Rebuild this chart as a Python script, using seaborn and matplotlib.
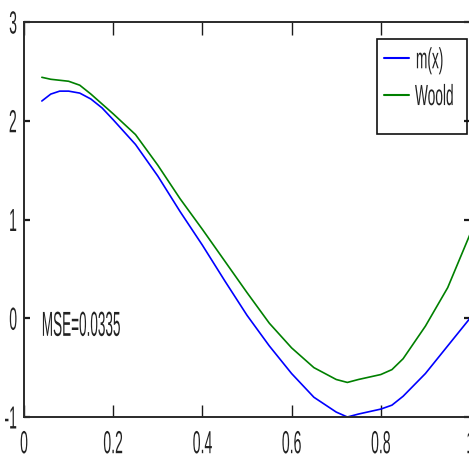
import numpy as np
import pandas as pd
import seaborn as sns
import matplotlib
matplotlib.use("Agg")
import matplotlib.pyplot as plt
from matplotlib.patheffects import AbstractPathEffect
from matplotlib.transforms import Affine2D
from matplotlib.patches import Rectangle

# Sample locations and the two curves
x_vals = [0.04, 0.06, 0.08, 0.10, 0.125, 0.15, 0.175, 0.20, 0.25, 0.30, 0.35,
          0.40, 0.45, 0.50, 0.55, 0.60, 0.65, 0.70, 0.725, 0.75, 0.80, 0.825,
          0.85, 0.90, 0.95, 1.00]
m_x = [2.20, 2.27, 2.30, 2.30, 2.28, 2.22, 2.13, 2.01, 1.76, 1.44, 1.08,
       0.74, 0.38, 0.03, -0.28, -0.56, -0.80, -0.95, -1.00, -0.97, -0.92, -0.88,
       -0.79, -0.56, -0.28, 0.00]
woold = [2.44, 2.42, 2.41, 2.40, 2.36, 2.27, 2.17, 2.07, 1.86, 1.55, 1.21,
         0.90, 0.58, 0.26, -0.05, -0.30, -0.50, -0.62, -0.65, -0.62, -0.57, -0.52,
         -0.41, -0.08, 0.31, 0.85]
series_names = ["m(x)", "Woold"]
series_colors = ["#0000ff", "#008000"]
x_ticks = [0, 0.2, 0.4, 0.6, 0.8, 1]
x_tick_labels = ["0", "0.2", "0.4", "0.6", "0.8", "1"]
y_ticks = [-1, 0, 1, 2, 3]
y_tick_labels = ["-1", "0", "1", "2", "3"]
mse_label = "MSE=0.0335"


class Squeeze(AbstractPathEffect):
    """Draw text narrowed horizontally about a chosen anchor edge."""

    def __init__(self, sx, anchor="center"):
        super().__init__()
        self.sx = sx
        self.anchor = anchor

    def draw_path(self, renderer, gc, tpath, affine, rgbFace=None):
        if len(tpath.vertices) == 0:
            return
        ext = tpath.get_extents(affine)
        if self.anchor == "left":
            x0 = ext.x0
        elif self.anchor == "right":
            x0 = ext.x1
        else:
            x0 = 0.5 * (ext.x0 + ext.x1)
        aff = affine + Affine2D().translate(-x0, 0).scale(self.sx, 1.0).translate(x0, 0)
        renderer.draw_path(gc, tpath, aff, rgbFace)


sns.set_theme(style="white")
plt.rcParams["font.family"] = ["Liberation Sans", "DejaVu Sans"]

W, H = 469, 457
fig = plt.figure(figsize=(W / 100, H / 100), dpi=100)
ax = fig.add_axes([24 / W, 1 - 417 / H, (470 - 24) / W, (417 - 22) / H])

df = pd.DataFrame({
    "x": x_vals * 2,
    "y": m_x + woold,
    "series": [series_names[0]] * len(x_vals) + [series_names[1]] * len(x_vals),
})
sns.lineplot(data=df, x="x", y="y", hue="series", palette=series_colors,
             hue_order=series_names, linewidth=1.2, ax=ax, legend=False,
             estimator=None, sort=False)

ax.set_xlim(0, 1)
ax.set_ylim(-1, 3)
ax.set_xlabel("")
ax.set_ylabel("")
ax.set_xticks(x_ticks)
ax.set_xticklabels(x_tick_labels)
ax.set_yticks(y_ticks)
ax.set_yticklabels(y_tick_labels)

for s in ax.spines.values():
    s.set_visible(True)
    s.set_color("#2a2a2a")
    s.set_linewidth(1.4)

ax.tick_params(axis="x", direction="in", length=9, width=1.0, color="#1a1a1a",
               top=True, bottom=True, pad=9.5, labelsize=23, labelcolor="#222222")
ax.tick_params(axis="y", direction="in", length=4, width=1.6, color="#1a1a1a",
               left=True, right=True, pad=4.5, labelsize=23, labelcolor="#222222")

for t in ax.get_xticklabels():
    t.set_path_effects([Squeeze(0.44, "center")])
for t in ax.get_yticklabels():
    t.set_path_effects([Squeeze(0.44, "right")])

ax.text(0.036, -0.178, mse_label, fontsize=25, color="#222222", ha="left",
        va="baseline", path_effects=[Squeeze(0.39, "left")])

# Legend entries, with a plain box drawn around them
handles = [plt.Line2D([], [], color=c, lw=1.5) for c in series_colors]
leg = ax.legend(handles, series_names, loc="upper left",
                bbox_to_anchor=(377 / W, 1 - 39 / H), bbox_transform=fig.transFigure,
                frameon=False, fontsize=21, handlelength=0.85, handletextpad=0.2,
                borderpad=0.25, borderaxespad=0, labelspacing=0.3)
for t in leg.get_texts():
    t.set_color("#222222")
    t.set_path_effects([Squeeze(0.47, "left")])
fig.add_artist(Rectangle((377 / W, 1 - 134 / H), (467 - 377) / W, (134 - 39) / H,
                         transform=fig.transFigure, fill=False,
                         edgecolor="#111111", linewidth=1.2))

fig.savefig("out.png", dpi=100)
